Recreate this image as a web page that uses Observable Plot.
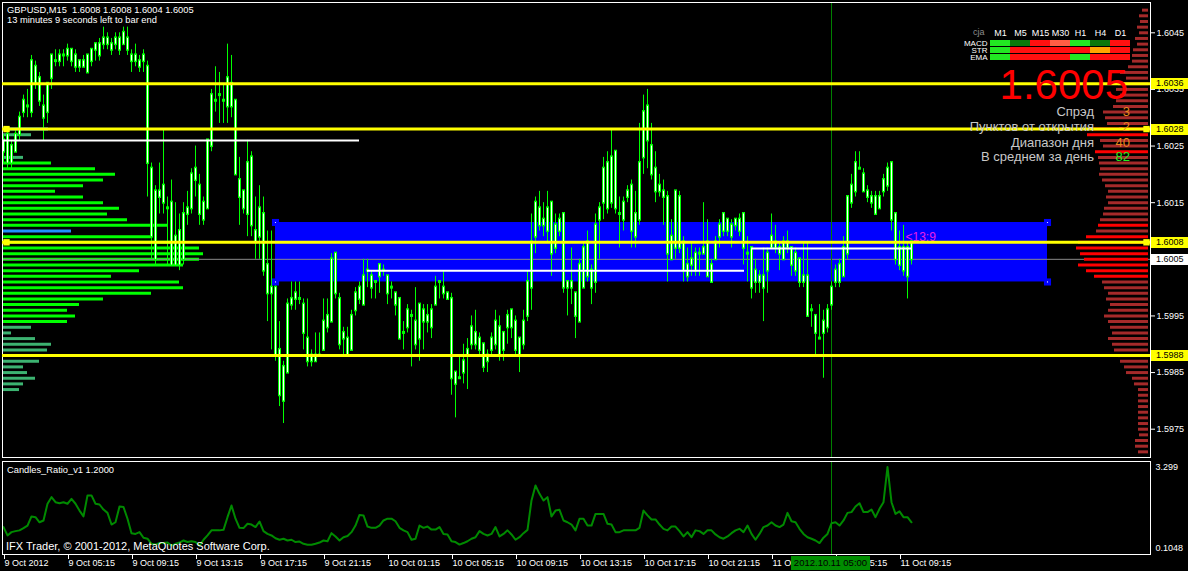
<!DOCTYPE html>
<html><head><meta charset="utf-8">
<script src="https://cdn.jsdelivr.net/npm/d3@7"></script>
<script src="https://cdn.jsdelivr.net/npm/@observablehq/plot@0.6"></script>
<style>
html,body{margin:0;padding:0;background:#000;}
#root{position:relative;width:1188px;height:571px;background:#000;overflow:hidden;font-family:"Liberation Sans",Arial,sans-serif;}
.layer{position:absolute;left:0;}
.txt{position:absolute;white-space:pre;}
</style></head><body><div id="root"></div>
<script>
// ---------- DATA ----------
const symbolTitle = "GBPUSD,M15  1.6008 1.6008 1.6004 1.6005";
const timerText = "13 minutes 9 seconds left to bar end";
const xTickBars = [0,16,32,48,64,80,96,112,128,144,160,176,192,208,224];
const xTickLabels = ["9 Oct 2012","9 Oct 05:15","9 Oct 09:15","9 Oct 13:15","9 Oct 17:15","9 Oct 21:15","10 Oct 01:15","10 Oct 05:15","10 Oct 09:15","10 Oct 13:15","10 Oct 17:15","10 Oct 21:15","11 Oct 01:15","11 Oct 05:15","11 Oct 09:15"];
const priceTicks = [1.6045,1.6035,1.6025,1.6015,1.5995,1.5985,1.5975];

const open = [1.6024,1.6027,1.6022,1.6024,1.6027,1.6031,1.6032,1.6031,1.6039,1.6037,
1.6032,1.6031,1.6037,1.6040,1.6040,1.6041,1.6041,1.6042,1.6041,1.6039,
1.6040,1.6038,1.6040,1.6042,1.6043,1.6043,1.6044,1.6043,1.6043,1.6044,
1.6043,1.6044,1.6041,1.6040,1.6040,1.6040,1.6039,1.6021,1.6005,1.6017,
1.6015,1.6014,1.6015,1.6004,1.6010,1.6005,1.6013,1.6014,1.6019,1.6018,
1.6012,1.6014,1.6025,1.6033,1.6034,1.6033,1.6032,1.6036,1.6033,1.6019,
1.6017,1.6013,1.6023,1.6010,1.6009,1.6013,1.6004,1.5999,1.6000,1.5989,
1.5980,1.5985,1.5997,1.5998,1.5998,1.5997,1.5991,1.5988,1.5987,1.5988,
1.5989,1.5993,1.5994,1.6006,1.5998,1.5991,1.5991,1.5989,1.5996,1.5998,
1.5997,1.6003,1.6002,1.6001,1.6002,1.6003,1.6002,1.6000,1.5999,1.5998,
1.5992,1.5993,1.5995,1.5994,1.5991,1.5996,1.5994,1.5993,1.5997,1.6001,
1.6000,1.5999,1.5998,1.5985,1.5984,1.5985,1.5988,1.5990,1.5992,1.5991,
1.5990,1.5987,1.5989,1.5990,1.5993,1.5989,1.5993,1.5996,1.5994,1.5991,
1.5990,1.5995,1.6000,1.6009,1.6014,1.6011,1.6010,1.6015,1.6007,1.6010,
1.6013,1.6001,1.6000,1.5999,1.5994,1.6000,1.6002,1.6003,1.6001,1.6012,
1.6015,1.6022,1.6015,1.6024,1.6013,1.6012,1.6016,1.6018,1.6009,1.6012,
1.6023,1.6032,1.6025,1.6021,1.6018,1.6017,1.6016,1.6005,1.6007,1.6016,
1.6008,1.6004,1.6004,1.6006,1.6006,1.6006,1.6008,1.6001,1.6005,1.6009,
1.6010,1.6012,1.6011,1.6011,1.6012,1.6013,1.6006,1.6007,1.6001,1.6002,
1.6002,1.6003,1.6007,1.6008,1.6007,1.6005,1.6008,1.6007,1.6003,1.6005,
1.6002,1.6002,1.5996,1.5995,1.5991,1.5992,1.5993,1.5997,1.6001,1.6001,
1.6002,1.6006,1.6015,1.6017,1.6021,1.6020,1.6017,1.6016,1.6016,1.6014,
1.6017,1.6018,1.6022,1.6013,1.6004,1.6007,1.6002,1.6008];
const high = [1.6027,1.6028,1.6026,1.6028,1.6031,1.6034,1.6035,1.6041,1.6040,1.6038,
1.6034,1.6036,1.6041,1.6042,1.6042,1.6042,1.6043,1.6042,1.6042,1.6040,
1.6041,1.6041,1.6042,1.6043,1.6044,1.6046,1.6045,1.6044,1.6045,1.6045,
1.6046,1.6046,1.6042,1.6043,1.6041,1.6042,1.6040,1.6022,1.6018,1.6022,
1.6028,1.6016,1.6019,1.6015,1.6013,1.6015,1.6017,1.6021,1.6025,1.6020,
1.6016,1.6026,1.6035,1.6039,1.6038,1.6036,1.6043,1.6041,1.6033,1.6023,
1.6017,1.6026,1.6024,1.6016,1.6018,1.6016,1.6010,1.6010,1.6001,1.5994,
1.5987,1.5998,1.6001,1.6001,1.6001,1.5998,1.5998,1.5989,1.5992,1.5992,
1.5998,1.5998,1.6006,1.6006,1.5999,1.5993,1.5993,1.5996,1.6000,1.6001,
1.6005,1.6005,1.6003,1.6001,1.6004,1.6004,1.6002,1.6001,1.5999,1.5998,
1.5994,1.5997,1.5996,1.6000,1.5997,1.5997,1.5997,1.5997,1.6002,1.6001,
1.6003,1.5999,1.5999,1.5985,1.5988,1.5990,1.5991,1.5995,1.5996,1.5992,
1.5990,1.5989,1.5992,1.5996,1.5995,1.5992,1.5996,1.5996,1.5995,1.5991,
1.5996,1.6003,1.6013,1.6016,1.6017,1.6015,1.6017,1.6015,1.6013,1.6013,
1.6013,1.6001,1.6007,1.5999,1.6005,1.6008,1.6010,1.6004,1.6013,1.6015,
1.6023,1.6024,1.6028,1.6024,1.6016,1.6016,1.6018,1.6019,1.6017,1.6029,
1.6034,1.6035,1.6029,1.6024,1.6020,1.6019,1.6017,1.6012,1.6017,1.6017,
1.6009,1.6007,1.6008,1.6007,1.6007,1.6015,1.6012,1.6005,1.6009,1.6012,
1.6013,1.6012,1.6012,1.6012,1.6013,1.6013,1.6009,1.6007,1.6005,1.6003,
1.6007,1.6007,1.6013,1.6011,1.6008,1.6009,1.6010,1.6007,1.6007,1.6005,
1.6008,1.6008,1.5997,1.5995,1.5997,1.5996,1.5997,1.6001,1.6004,1.6005,
1.6009,1.6016,1.6020,1.6024,1.6024,1.6021,1.6018,1.6017,1.6017,1.6017,
1.6020,1.6022,1.6022,1.6013,1.6010,1.6011,1.6008,1.6008];
const low = [1.6022,1.6021,1.6021,1.6024,1.6026,1.6030,1.6030,1.6030,1.6035,1.6032,
1.6026,1.6029,1.6035,1.6039,1.6039,1.6039,1.6040,1.6039,1.6038,1.6038,
1.6039,1.6038,1.6039,1.6040,1.6040,1.6042,1.6042,1.6041,1.6042,1.6041,
1.6043,1.6041,1.6038,1.6039,1.6038,1.6038,1.6016,1.6005,1.6004,1.6013,
1.6013,1.6004,1.6004,1.6004,1.6003,1.6004,1.6011,1.6013,1.6016,1.6011,
1.6011,1.6014,1.6024,1.6031,1.6029,1.6029,1.6029,1.6030,1.6020,1.6011,
1.6013,1.6009,1.6009,1.6005,1.6005,1.6002,1.5994,1.5989,1.5987,1.5979,
1.5976,1.5985,1.5996,1.5996,1.5997,1.5989,1.5986,1.5986,1.5987,1.5988,
1.5989,1.5992,1.5994,1.5998,1.5989,1.5988,1.5988,1.5989,1.5995,1.5997,
1.5997,1.6000,1.5998,1.5998,1.5999,1.6002,1.5997,1.5998,1.5995,1.5991,
1.5989,1.5992,1.5986,1.5989,1.5987,1.5989,1.5992,1.5991,1.5997,1.5998,
1.5998,1.5998,1.5981,1.5977,1.5984,1.5983,1.5982,1.5989,1.5989,1.5988,
1.5985,1.5985,1.5988,1.5989,1.5987,1.5987,1.5990,1.5991,1.5988,1.5985,
1.5989,1.5994,1.5996,1.6006,1.6010,1.6009,1.6008,1.6002,1.6006,1.6009,
1.5999,1.5995,1.5997,1.5991,1.5994,1.6000,1.6001,1.5997,1.5999,1.6005,
1.6012,1.6013,1.6014,1.6013,1.6007,1.6010,1.6015,1.6007,1.6007,1.6011,
1.6020,1.6021,1.6019,1.6015,1.6016,1.6011,1.6001,1.6005,1.6005,1.6006,
1.6001,1.6001,1.6002,1.6002,1.6002,1.6006,1.6002,1.6001,1.6005,1.6007,
1.6009,1.6009,1.6007,1.6010,1.6009,1.6004,1.6001,1.5998,1.5999,1.5999,
1.5994,1.5999,1.6007,1.6006,1.6003,1.6005,1.6006,1.6002,1.6002,1.6000,
1.6000,1.5995,1.5993,1.5988,1.5991,1.5984,1.5992,1.5996,1.6000,1.6000,
1.6002,1.6005,1.6014,1.6016,1.6021,1.6017,1.6015,1.6014,1.6013,1.6014,
1.6016,1.6017,1.6010,1.6004,1.6003,1.6002,1.5998,1.6004];
const close = [1.6026,1.6022,1.6025,1.6027,1.6030,1.6033,1.6032,1.6040,1.6036,1.6033,
1.6030,1.6036,1.6041,1.6040,1.6041,1.6041,1.6042,1.6040,1.6039,1.6040,
1.6039,1.6041,1.6042,1.6043,1.6041,1.6044,1.6043,1.6042,1.6044,1.6042,
1.6045,1.6042,1.6040,1.6041,1.6039,1.6041,1.6022,1.6009,1.6017,1.6016,
1.6018,1.6014,1.6004,1.6009,1.6004,1.6013,1.6014,1.6020,1.6021,1.6013,
1.6015,1.6026,1.6034,1.6033,1.6034,1.6033,1.6037,1.6032,1.6020,1.6016,
1.6014,1.6022,1.6011,1.6008,1.6014,1.6003,1.5999,1.6000,1.5988,1.5981,
1.5986,1.5997,1.5998,1.5999,1.5998,1.5992,1.5987,1.5987,1.5988,1.5988,
1.5994,1.5995,1.6005,1.5999,1.5990,1.5992,1.5988,1.5995,1.5999,1.6000,
1.6002,1.6003,1.6000,1.6001,1.6004,1.6003,1.5999,1.6000,1.5997,1.5991,
1.5992,1.5996,1.5995,1.5990,1.5997,1.5994,1.5995,1.5996,1.6000,1.6001,
1.5999,1.5998,1.5984,1.5983,1.5984,1.5987,1.5989,1.5993,1.5990,1.5989,
1.5986,1.5988,1.5991,1.5994,1.5988,1.5992,1.5995,1.5993,1.5989,1.5988,
1.5994,1.6001,1.6008,1.6015,1.6011,1.6012,1.6014,1.6006,1.6011,1.6012,
1.6000,1.6000,1.6001,1.5995,1.6004,1.6007,1.6008,1.6000,1.6011,1.6014,
1.6021,1.6014,1.6023,1.6014,1.6013,1.6015,1.6017,1.6010,1.6013,1.6022,
1.6031,1.6026,1.6020,1.6017,1.6017,1.6016,1.6006,1.6009,1.6017,1.6007,
1.6003,1.6002,1.6005,1.6003,1.6006,1.6007,1.6002,1.6004,1.6008,1.6011,
1.6013,1.6010,1.6009,1.6012,1.6010,1.6007,1.6006,1.6000,1.6003,1.6001,
1.6000,1.6006,1.6009,1.6007,1.6006,1.6008,1.6007,1.6004,1.6006,1.6001,
1.6001,1.5995,1.5996,1.5992,1.5991,1.5994,1.5996,1.6000,1.6003,1.6004,
1.6007,1.6016,1.6018,1.6022,1.6021,1.6017,1.6016,1.6015,1.6013,1.6016,
1.6019,1.6021,1.6012,1.6005,1.6007,1.6003,1.6007,1.6005];

// Candles_Ratio indicator, one value per bar
const candlesRatio = [0.93,0.60,0.73,0.77,0.80,0.89,0.99,1.35,1.32,1.12,
1.19,1.85,2.11,1.91,1.87,1.91,1.85,2.04,1.85,1.58,
1.35,2.18,2.18,1.85,1.82,1.62,1.49,1.03,1.12,1.74,
1.72,1.26,0.69,0.66,0.73,0.51,0.47,0.27,0.24,0.30,
0.30,0.32,0.20,0.27,0.32,0.40,0.34,0.37,0.34,0.20,
0.43,0.60,0.80,0.80,0.80,0.82,1.32,1.78,1.26,0.90,
0.89,1.06,1.03,0.93,1.15,0.77,0.66,0.60,0.49,0.43,
0.47,0.40,0.43,0.34,0.36,0.27,0.23,0.23,0.27,0.32,
0.40,0.37,0.69,0.56,0.40,0.53,0.58,0.73,0.99,1.41,
1.39,0.95,0.90,0.90,0.99,1.19,1.26,1.26,1.16,0.90,
0.80,0.73,0.43,0.47,0.99,0.90,0.95,0.83,0.83,0.93,
0.66,0.64,0.37,0.34,0.24,0.30,0.37,0.47,0.53,0.77,
0.66,0.60,0.66,0.93,0.56,0.66,0.80,0.64,0.43,0.53,
0.69,0.82,1.98,2.57,2.24,1.98,2.11,1.35,1.58,1.61,
1.19,1.12,1.03,0.80,1.26,1.26,0.99,0.99,1.45,1.45,
1.45,1.06,1.03,0.73,0.73,0.80,0.80,0.80,0.80,0.90,
1.58,1.39,1.23,1.23,1.03,0.86,0.80,0.95,0.95,0.77,
0.56,0.73,0.53,0.80,0.77,0.66,0.80,0.80,0.64,0.53,
0.47,0.56,0.69,0.80,0.86,0.73,0.99,0.66,0.43,0.66,
0.93,0.99,1.12,0.99,0.93,1.03,1.49,1.16,1.12,0.86,
0.66,0.53,0.47,0.40,0.30,0.51,0.66,1.08,1.12,0.99,
1.19,1.49,1.52,1.74,1.87,1.52,1.52,1.62,1.32,1.65,
1.91,3.299,1.91,1.45,1.55,1.32,1.32,1.12];
const ratioScale = [0.1048, 3.299];

// left volume profile (price level, volume, class)
const leftLevels = [1.6028,1.6027,1.6023,1.6022,1.6021,1.6020,1.6019,1.6018,1.6017,1.6016,1.6015,1.6014,1.6013,1.6012,1.6011,1.6010,1.6009,1.6008,1.6007,1.6006,1.6005,1.6004,1.6003,1.6002,1.6001,1.6000,1.5999,1.5998,1.5997,1.5996,1.5995,1.5994,1.5993,1.5992,1.5991,1.5990,1.5989,1.5988,1.5987,1.5986,1.5985,1.5984,1.5983,1.5982];
const leftVolumes = [45,28,20,48,92,112,100,80,52,80,100,116,104,124,164,68,148,170,196,200,196,180,136,108,176,180,148,100,76,64,72,64,28,8,32,48,44,52,36,20,24,32,20,16];
const leftClasses = ["b","t","t","g","g","g","g","g","g","g","g","g","g","g","g","b","g","g","g","g","g","g","g","g","g","g","g","g","g","g","g","g","t","t","t","t","t","g","t","t","t","t","t","t"];
const leftColors = {g: "#00ff00", t: "#3cb371", b: "#1e90ff"};

// right volume profile
const rightLevels = [1.6049,1.6048,1.6047,1.6046,1.6045,1.6044,1.6043,1.6042,1.6041,1.6040,1.6039,1.6038,1.6037,1.6036,1.6035,1.6034,1.6033,1.6032,1.6031,1.6030,1.6029,1.6028,1.6027,1.6026,1.6025,1.6024,1.6023,1.6022,1.6021,1.6020,1.6019,1.6018,1.6017,1.6016,1.6015,1.6014,1.6013,1.6012,1.6011,1.6010,1.6009,1.6008,1.6007,1.6006,1.6005,1.6004,1.6003,1.6002,1.6001,1.6000,1.5999,1.5998,1.5997,1.5996,1.5995,1.5994,1.5993,1.5992,1.5991,1.5990,1.5989,1.5988,1.5987,1.5986,1.5985,1.5984,1.5983,1.5982,1.5981,1.5980,1.5979,1.5978,1.5977,1.5976,1.5975,1.5974,1.5973,1.5972,1.5971];
const rightVolumes = [6,9,8,11,9,13,11,15,16,16,20,28,22,30,32,28,32,35,45,43,41,56,61,48,45,53,50,49,48,49,46,43,40,42,40,44,45,48,50,52,62,70,72,68,64,70,62,54,46,44,40,42,38,40,44,40,38,36,40,36,34,30,28,24,22,16,14,10,10,10,10,10,10,10,10,9,13,13,10];
const rightClasses = ["d","d","d","d","d","d","d","d","d","d","d","d","d","d","d","d","d","d","d","d","d","r","r","d","d","r","d","d","d","d","d","d","d","d","d","d","d","d","r","d","r","r","r","r","r","r","r","r","d","d","d","d","d","d","d","d","d","d","d","d","d","d","d","d","d","d","d","d","d","d","d","d","d","d","d","d","d","d","d"];
const rightColors = {d: "#a52a2a", r: "#ff0000"};

const supportLevels = [1.6036, 1.6028, 1.6008, 1.5988];
const selectedLevels = [1.6028, 1.6008];
const currentPrice = 1.6005;
const cursorBar = 207;
const cursorLabel = "2012.10.11 05:00";
const zone = {bar1: 68, bar2: 261, price1: 1.6001, price2: 1.60115};
const whiteLines = [{price: 1.6026, bar1: 0, bar2: 89}, {price: 1.6003, bar1: 91, bar2: 185.25}, {price: 1.60069, bar1: 187.25, bar2: 227.25}];
const countdown = {bar: 225.5, price: 1.6009, text: "<13:9"};

const timeframes = ["M1","M5","M15","M30","H1","H4","D1"];
const signalRows = ["MACD","STR","EMA"];
const macdColors = ["#22e822","#0b780b","#ff1010","#ff5e45","#22e822","#0b780b","#ff1010"];
const strColors  = ["#22e822","#ff1010","#ff1010","#ff1010","#ff1010","#ffa500","#ff1010"];
const emaColors  = ["#22e822","#ff1010","#ff1010","#ff1010","#22e822","#ff1010","#ff1010"];

const infoLabels = ["Спрэд","Пунктов от открытия","Диапазон дня","В среднем за день"];
const infoValues = ["3","-2","40","82"];
const infoColors = ["#e8871e","#e8871e","#e8871e","#22ee22"];
const bigPrice = "1.6005";

// ---------- RENDER ----------
const root = document.getElementById("root");
const W = 1188, HM = 457;
const FONT = "Liberation Sans, Arial, sans-serif";
const yMain = {domain: [1.5975, 1.6045], range: [428.7, 32.3], axis: null};
const xBars = {domain: [0, 227], range: [3, 911], axis: null};
const base = {width: W, height: HM, marginLeft: 2, marginRight: 38, marginTop: 2, marginBottom: 0,
  style: {background: "transparent", color: "#ffffff", fontFamily: FONT, fontSize: "9px", overflow: "visible"}};

function addLayer(el, top) { el.classList.add("layer"); el.style.top = top + "px"; root.appendChild(el); return el; }

const bars = open.map((o, i) => ({i, h: high[i], l: low[i], top: Math.max(o, close[i]), bot: Math.min(o, close[i])}));
const leftData = leftLevels.map((p, k) => ({p, v: leftVolumes[k], c: leftColors[leftClasses[k]]}));
const rightData = rightLevels.map((p, k) => ({p, v: rightVolumes[k], c: rightColors[rightClasses[k]]}));

// layer 1: left profile
addLayer(Plot.plot({...base, x: {domain: [0, 200], range: [3, 203], axis: null}, y: yMain, color: {type: "identity"},
  marks: [Plot.ruleY(leftData, {y: "p", x1: 0, x2: "v", stroke: "c", strokeWidth: 3})]}), 0);

// layer 2: main price chart
const mainPlot = addLayer(Plot.plot({...base, x: xBars, y: yMain, color: {type: "identity"},
  marks: [
    Plot.rect([zone], {x1: "bar1", x2: "bar2", y1: "price1", y2: "price2", fill: "#0000ff"}),
    Plot.ruleY([currentPrice], {stroke: "#8a8a8a", strokeWidth: 1}),
    Plot.ruleX([cursorBar], {stroke: "#008000", strokeWidth: 1}),
    Plot.ruleX(bars, {x: "i", y1: "l", y2: "h", stroke: "#00ff00", strokeWidth: 1}),
    Plot.ruleX(bars, {x: "i", y1: "bot", y2: "top", stroke: "#00ff00", strokeWidth: 3, strokeLinecap: "square"}),
    Plot.ruleX(bars, {x: "i", y1: "bot", y2: "top", stroke: "#ffffff", strokeWidth: 1}),
    Plot.ruleY(whiteLines, {y: "price", x1: "bar1", x2: "bar2", stroke: "#ffffff", strokeWidth: 2}),
    Plot.dot([[zone.bar1, zone.price2], [zone.bar1, zone.price1], [zone.bar2, zone.price2], [zone.bar2, zone.price1]], {x: d => d[0], y: d => d[1], symbol: "square", r: 4, fill: "#0000ff"}),
    Plot.dot([[zone.bar1, zone.price2], [zone.bar1, zone.price1], [zone.bar2, zone.price2], [zone.bar2, zone.price1]], {x: d => d[0], y: d => d[1], r: 0.6, fill: "#ffffff"}),
    Plot.text([countdown], {x: "bar", y: "price", text: "text", fill: "#e81ee8", fontSize: 12, textAnchor: "start"}),
    Plot.axisY({anchor: "right", ticks: priceTicks, tickFormat: d => d.toFixed(4), tickSize: 4, tickPadding: 2, fontSize: 9}),
    Plot.frame({stroke: "#ffffff"})
  ]}), 0);

// layer 3: right profile + horizontal levels
addLayer(Plot.plot({...base, x: {domain: [0, 100], range: [1148, 1048], axis: null}, y: yMain, color: {type: "identity"},
  marks: [
    Plot.ruleY(rightData, {y: "p", x1: 0, x2: "v", stroke: "c", strokeWidth: 3}),
    Plot.ruleY(supportLevels, {stroke: "#ffff00", strokeWidth: 3}),
    Plot.dot(selectedLevels, {y: d => d, frameAnchor: "left", dx: 4, symbol: "square", r: 3.6, fill: "#ffff00"}),
    Plot.dot(selectedLevels, {y: d => d, frameAnchor: "right", dx: -4, symbol: "square", r: 3.6, fill: "#ffff00"})
  ]}), 0);

// layer 4: indicator panel
const indPlot = addLayer(Plot.plot({width: W, height: 114, marginLeft: 2, marginRight: 38, marginTop: 4, marginBottom: 17,
  style: {background: "transparent", color: "#ffffff", fontFamily: FONT, fontSize: "9px", overflow: "visible"},
  x: xBars, y: {domain: ratioScale, range: [90.5, 9.5], axis: null},
  marks: [
    Plot.ruleX([cursorBar], {stroke: "#008000", strokeWidth: 1}),
    Plot.line(candlesRatio, {x: (d, i) => i, y: d => d, stroke: "#008a00", strokeWidth: 2}),
    Plot.axisX({anchor: "bottom", ticks: xTickBars, tickFormat: d => xTickLabels[xTickBars.indexOf(d)], tickSize: 5, tickPadding: 0, textAnchor: "start", dx: 1, fontSize: 9}),
    Plot.axisY({anchor: "right", ticks: ratioScale, tickFormat: d => String(d), tickSize: 0, tickPadding: 5, fontSize: 9}),
    Plot.frame({stroke: "#ffffff"})
  ]}), 457);

// signal table
const cells = [];
[macdColors, strColors, emaColors].forEach((arr, r) => arr.forEach((c, k) => cells.push({tf: timeframes[k], row: signalRows[r], c})));
const tbl = addLayer(Plot.plot({width: 194, height: 40, marginLeft: 49, marginRight: 4, marginTop: 14, marginBottom: 2,
  style: {background: "transparent", color: "#ffffff", fontFamily: FONT, fontSize: "9px", overflow: "visible"},
  x: {domain: timeframes, padding: 0, axis: null}, y: {domain: signalRows, padding: 0.14, axis: null}, color: {type: "identity"},
  marks: [
    Plot.cell(cells, {x: "tf", y: "row", fill: "c"}),
    Plot.axisX({anchor: "top", tickSize: 0, tickPadding: 3, fontSize: 9, label: null}),
    Plot.axisY({anchor: "left", tickSize: 0, tickPadding: 2, fontSize: 8, label: null})
  ]}), 24);
tbl.style.left = "940px";

// ---------- HTML annotations ----------
function txt(s, css) { const d = document.createElement("div"); d.className = "txt"; d.textContent = s; Object.assign(d.style, css); root.appendChild(d); return d; }
txt(symbolTitle, {left: "7px", top: "5px", fontSize: "9.3px", lineHeight: "10px", color: "#fff"});
txt(timerText, {left: "7px", top: "15px", fontSize: "9.3px", lineHeight: "10px", color: "#fff"});
txt("cja", {left: "973px", top: "27px", fontSize: "9px", lineHeight: "10px", color: "#8c8c8c"});
txt(bigPrice, {right: "60px", top: "64.4px", fontSize: "42px", lineHeight: "42px", color: "#ff0000"});
const infoTops = [104, 119, 135, 149];
infoLabels.forEach((s, k) => {
  txt(s, {right: "94px", top: infoTops[k] + "px", fontSize: "13px", lineHeight: "15px", color: "#c8c8c8"});
  txt(infoValues[k], {right: "58px", top: infoTops[k] + "px", fontSize: "13px", lineHeight: "15px", color: infoColors[k]});
});
txt("Candles_Ratio_v1 1.2000", {left: "7px", top: "465px", fontSize: "9.3px", lineHeight: "10px", color: "#fff"});
txt("IFX Trader, © 2001-2012, MetaQuotes Software Corp.", {left: "6px", top: "540px", fontSize: "11px", lineHeight: "12px", color: "#fff"});

// price-axis labels for levels (positioned through the y scale)
const ys = mainPlot.scale("y");
supportLevels.forEach(p => txt(p.toFixed(4), {left: "1151px", top: (ys.apply(p) - 5) + "px", width: "37px", height: "11px", paddingLeft: "5px", boxSizing: "border-box", background: "#ffff00", color: "#000", fontSize: "9px", lineHeight: "11px"}));
txt(currentPrice.toFixed(4), {left: "1151px", top: (ys.apply(currentPrice) - 5) + "px", width: "37px", height: "11px", paddingLeft: "5px", boxSizing: "border-box", background: "#ffffff", color: "#000", fontSize: "9px", lineHeight: "11px"});
// cursor time label
const xs = indPlot.scale("x");
txt(cursorLabel, {left: (xs.apply(cursorBar) - 40) + "px", top: "556px", width: "79px", height: "14px", background: "#008c00", color: "#000", fontSize: "9.5px", lineHeight: "14px", textAlign: "center"});
</script></body></html>
